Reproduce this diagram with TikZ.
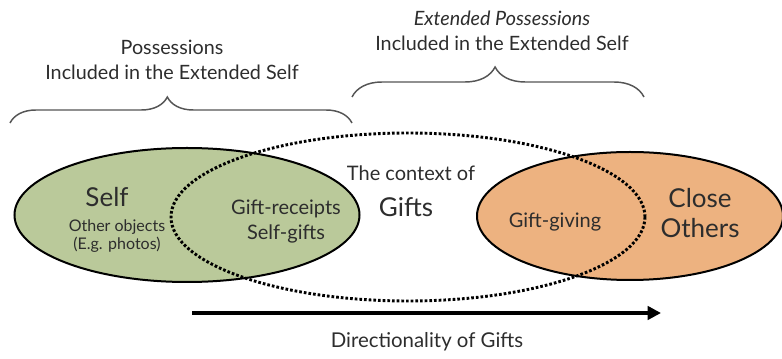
\documentclass[tikz,border=0pt]{standalone}
\usepackage{fontspec}
\setmainfont{Lato}
\usetikzlibrary{shapes.geometric,decorations.pathreplacing,arrows.meta}
\definecolor{selfgreen}{RGB}{186,201,154}
\definecolor{otherorange}{RGB}{237,178,128}
\definecolor{inkgray}{RGB}{45,45,45}
\definecolor{bracegray}{RGB}{85,85,85}
\tikzset{
  setshape/.style={ellipse,draw=black,line width=1.5pt,inner sep=0pt},
  contextshape/.style={ellipse,draw=black,line width=2.2pt,dash pattern=on 2pt off 1.5pt,inner sep=0pt},
  headtext/.style={text=inkgray,align=center,font=\fontsize{14.8}{18.75}\selectfont},
  bigtext/.style={text=inkgray,align=center,font=\fontsize{19.5}{22.5}\selectfont},
  midtext/.style={text=inkgray,align=center,font=\fontsize{15}{18.75}\selectfont},
  smalltext/.style={text=inkgray,align=center,font=\fontsize{12}{13.5}\selectfont},
  braceline/.style={draw=bracegray,line width=1.1pt,decorate},
  dirarrow/.style={line width=3pt,-{Triangle[length=10pt,width=10pt]}}
}
\begin{document}
\begin{tikzpicture}[x=0.75pt,y=-0.75pt]
\useasboundingbox (0,0) rectangle (782,359);
\node[setshape,fill=selfgreen,minimum width=258.75pt,minimum height=100.5pt] (selfset) at (187,215) {};
\node[setshape,fill=otherorange,minimum width=229.5pt,minimum height=96pt] (otherset) at (630,216) {};
\node[contextshape,minimum width=355.5pt,minimum height=126pt] (contextset) at (408,217) {};
\node[bigtext] (selflbl) at (107,197) {Self};
\node[smalltext] (objectslbl) at (117,236) {Other objects\\(E.g. photos)};
\node[midtext] (receiptslbl) at (286,222) {Gift-receipts\\Self-gifts};
\node[midtext] (contextlbl) at (411,173) {The context of};
\node[bigtext] (giftslbl) at (406,207) {Gifts};
\node[midtext] (givinglbl) at (555,222) {Gift-giving};
\node[bigtext] (otherslbl) at (700,213) {Close\\Others};
\node[headtext] (ownlbl) at (172,60) {Possessions\\Included in the Extended Self};
\node[headtext] (extlbl) at (502,31) {\textit{Extended Possessions}\\Included in the Extended Self};
\coordinate (ownL) at (10,123);
\coordinate (ownR) at (352,123);
\coordinate (extL) at (352,97);
\coordinate (extR) at (644,97);
\draw[braceline,decoration={brace,amplitude=19.5pt,aspect=0.46}] (ownL) -- (ownR);
\draw[braceline,decoration={brace,amplitude=22.5pt,aspect=0.49}] (extL) -- (extR);
\coordinate (dirstart) at (192,313);
\coordinate (dirend) at (661,313);
\draw[dirarrow] (dirstart) -- (dirend);
\node[headtext,font=\fontsize{15.3}{18.75}\selectfont] (dirlbl) at (427,342) {Directionality of Gifts};
\end{tikzpicture}
\end{document}
